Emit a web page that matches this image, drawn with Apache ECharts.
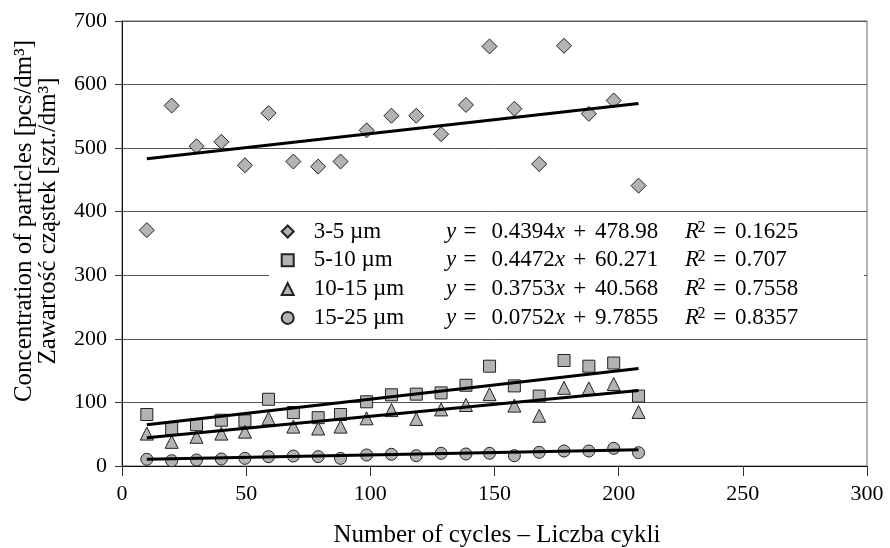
<!DOCTYPE html>
<html>
<head>
<meta charset="utf-8">
<script src="https://cdn.jsdelivr.net/npm/echarts@6/dist/echarts.min.js"></script>
<style>
  html, body { margin: 0; padding: 0; background: #fff; }
  #chart { width: 890px; height: 548px; }
</style>
</head>
<body>
<div id="chart"></div>
<script>
// Number of cycles at which each sample was taken
const xCycles = [10, 20, 30, 40, 49.5, 59, 69, 79, 88, 98.5, 108.5, 118.5, 128.5, 138.5, 148, 158, 168, 178, 188, 198, 208];

// Particle concentrations per size class [pcs/dm3]
const size3to5   = [371, 567, 503, 510, 473, 555, 479, 471, 479, 528, 551, 551, 522, 568, 660, 562, 475, 661, 554, 575, 441];
const size5to10  = [81, 59, 65, 72, 71, 105, 84, 76, 81, 101, 112, 113, 115, 127, 157, 126, 110, 166, 157, 162, 110];
const size10to15 = [51, 38, 46, 51, 54, 75, 62, 59, 62, 75, 88, 74, 89, 96, 113, 95, 79, 123, 122, 129, 85];
const size15to25 = [10.5, 8.4, 9.4, 11, 12, 14.7, 15.7, 14.7, 12, 17.3, 18.4, 16.2, 20, 18.9, 20, 16.2, 21.5, 23.6, 23.6, 27.8, 21];

// Size classes and their linear fits
const seriesNames = ['3-5 µm', '5-10 µm', '10-15 µm', '15-25 µm'];
const slopes      = [0.4394, 0.4472, 0.3753, 0.0752];
const intercepts  = [478.98, 60.271, 40.568, 9.7855];
const rSquared    = [0.1625, 0.707, 0.7558, 0.8357];

const FONT = '"Liberation Serif", "Times New Roman", serif';
const valueSets = [size3to5, size5to10, size10to15, size15to25];
const symbols = ['diamond', 'rect', 'triangle', 'circle'];
const symbolSizes = [15, 12, 13, 12];

const scatterSeries = seriesNames.map((name, i) => ({
  name: name,
  type: 'scatter',
  symbol: symbols[i],
  symbolSize: symbolSizes[i],
  itemStyle: { color: '#b3b3b3', borderColor: '#222', borderWidth: 1, opacity: 1 },
  data: xCycles.map((x, j) => [x, valueSets[i][j]]),
  z: 2
}));

// Fitted lines span the sampled range of cycles
const xFirst = xCycles[0];
const xLast = xCycles[xCycles.length - 1];
const trendSeries = seriesNames.map((name, i) => ({
  name: 'fit ' + name,
  type: 'line',
  symbol: 'none',
  silent: true,
  lineStyle: { color: '#000', width: 3 },
  data: [
    [xFirst, slopes[i] * xFirst + intercepts[i]],
    [xLast, slopes[i] * xLast + intercepts[i]]
  ],
  z: 3
}));

const base = { fontFamily: FONT, fontSize: 23, lineHeight: 24, color: '#000' };

const option = {
  animation: false,
  backgroundColor: '#fff',
  grid: {
    left: 122, right: 23, top: 21, bottom: 82,
    show: true, borderColor: '#666', borderWidth: 1, backgroundColor: 'transparent'
  },
  xAxis: {
    type: 'value', min: 0, max: 300, interval: 50,
    axisLine: { show: true, onZero: false, lineStyle: { color: '#111', width: 1 } },
    axisTick: { show: true, inside: false, length: 10, lineStyle: { color: '#333' } },
    axisLabel: { fontFamily: FONT, fontSize: 22, color: '#000', margin: 17 },
    splitLine: { show: false }
  },
  yAxis: {
    type: 'value', min: 0, max: 700, interval: 100,
    axisLine: { show: true, lineStyle: { color: '#111', width: 1 } },
    axisTick: { show: true, inside: false, length: 7, lineStyle: { color: '#333' } },
    axisLabel: { fontFamily: FONT, fontSize: 22, color: '#000', margin: 15 },
    splitLine: { show: true, lineStyle: { color: '#555', width: 1 } }
  },
  legend: {
    data: seriesNames,
    orient: 'vertical',
    left: 269, top: 213,
    padding: [6.5, 0, 8, 11.7],
    itemGap: 5.3,
    itemWidth: 12, itemHeight: 12,
    backgroundColor: '#fff',
    borderWidth: 0,
    selectedMode: false,
    formatter: function (name) {
      const i = seriesNames.indexOf(name);
      return '{g| }{n|' + name + '}{v|y}{eq|=}{s|' + slopes[i] + '}{vx|x}{pl|+}{b|' +
        intercepts[i] + '}{r|R}{sup|2}{eq2|=}{q|' + rSquared[i] + '}';
    },
    textStyle: {
      fontFamily: FONT, fontSize: 23, color: '#000',
      rich: {
        g:   Object.assign({}, base, { width: 15 }),
        n:   Object.assign({}, base, { width: 132.3 }),
        v:   Object.assign({}, base, { fontStyle: 'italic', width: 17.5 }),
        eq:  Object.assign({}, base, { width: 28 }),
        s:   Object.assign({}, base, { width: 63.3 }),
        vx:  Object.assign({}, base, { fontStyle: 'italic', width: 18.5 }),
        pl:  Object.assign({}, base, { width: 21.7 }),
        b:   Object.assign({}, base, { width: 90 }),
        r:   Object.assign({}, base, { fontStyle: 'italic', width: 12.5 }),
        sup: { fontFamily: FONT, fontSize: 16, lineHeight: 15, color: '#000', verticalAlign: 'top', width: 15.8 },
        eq2: Object.assign({}, base, { width: 21.7 }),
        q:   Object.assign({}, base, { width: 129 })
      }
    }
  },
  graphic: [
    {
      type: 'text',
      x: 36, y: 221,
      rotation: Math.PI / 2,
      style: {
        text: 'Concentration of particles [pcs/dm³]\nZawartość cząstek [szt./dm³]',
        font: '25px ' + FONT,
        fill: '#000',
        align: 'center',
        verticalAlign: 'middle',
        textAlign: 'center',
        textVerticalAlign: 'middle',
        lineHeight: 24
      }
    },
    {
      type: 'text',
      x: 497, y: 535,
      style: {
        text: 'Number of cycles – Liczba cykli',
        font: '25px ' + FONT,
        fill: '#000',
        align: 'center',
        verticalAlign: 'middle',
        textAlign: 'center',
        textVerticalAlign: 'middle'
      }
    }
  ],
  series: scatterSeries.concat(trendSeries)
};

const chart = echarts.init(document.getElementById('chart'), null, { renderer: 'canvas' });
chart.setOption(option);
</script>
</body>
</html>
